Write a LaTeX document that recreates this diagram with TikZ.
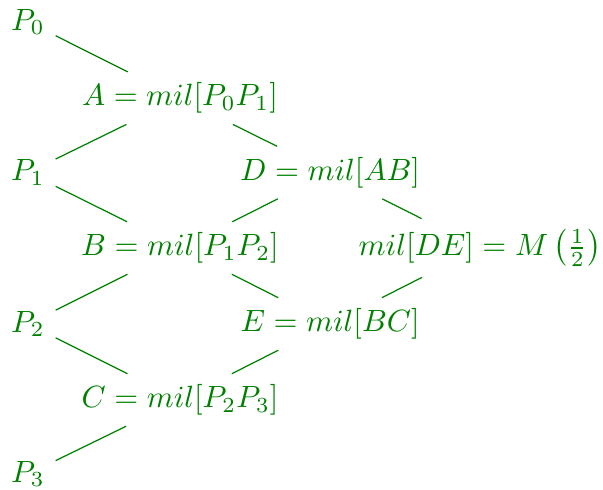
\documentclass[tikz,border=0pt]{standalone}
\usepackage{tikz}

\begin{document}
\begin{tikzpicture}[
        x=1pt, y=-1pt,
        color=green!50!black,
        pt/.style={},
        midpt/.style={},
        link/.style={draw, line width=0.4pt}
    ]

    \useasboundingbox (0,0) rectangle (196,159.2);

    % ---- control points ----
    \node[pt] (p0) at (9.1,7.1) {$P_0$};
    \node[pt] (p1) at (9.1,56.1) {$P_1$};
    \node[pt] (p2) at (9.1,105.3) {$P_2$};
    \node[pt] (p3) at (9.1,154.1) {$P_3$};

    % ---- first level midpoints ----
    \node[midpt] (a) at (58.5,31.9) {$A = mil[P_0P_1]$};
    \node[midpt] (b) at (58.5,80.6) {$B = mil[P_1P_2]$};
    \node[midpt] (c) at (58.5,130) {$C = mil[P_2P_3]$};

    % ---- second level ----
    \node[midpt] (d) at (107.3,56.1) {$D = mil[AB]$};
    \node[midpt] (e) at (107.3,105.3) {$E = mil[BC]$};

    % ---- final point ----
    \node[midpt] (m) at (156,80.6) {$mil[DE] = M\left(\frac{1}{2}\right)$};

    % ---- links ----
    \draw[link] (p0) -- (a);
    \draw[link] (p1) -- (a);
    \draw[link] (p1) -- (b);
    \draw[link] (p2) -- (b);
    \draw[link] (p2) -- (c);
    \draw[link] (p3) -- (c);
    \draw[link] (a) -- (d);
    \draw[link] (b) -- (d);
    \draw[link] (b) -- (e);
    \draw[link] (c) -- (e);
    \draw[link] (d) -- (m);
    \draw[link] (e) -- (m);

\end{tikzpicture}
\end{document}
